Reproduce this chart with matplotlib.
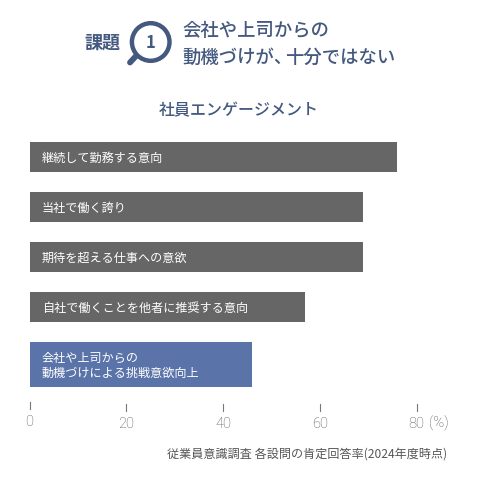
import matplotlib
matplotlib.use("Agg")
import matplotlib.pyplot as plt
from matplotlib.patches import Circle
from matplotlib.lines import Line2D

plt.rcParams['font.family'] = ['Noto Sans CJK JP', 'DejaVu Sans']

# data
categories = ["継続して勤務する意向", "当社で働く誇り", "期待を超える仕事への意欲",
              "自社で働くことを他者に推奨する意向",
              "会社や上司からの\n動機づけによる挑戦意欲向上"]
values = [76, 69, 69, 57, 46]
bar_colors = ["#666666", "#666666", "#666666", "#666666", "#5a73a8"]
tick_vals = [0, 20, 40, 60, 80]
tick_labels = ["0", "20", "40", "60", "80"]

navy = "#44597f"
grey = "#555555"
W, H = 478, 480

fig = plt.figure(figsize=(W / 100, H / 100), dpi=100)
ax = fig.add_axes([29.5 / W, 1 - 387 / H, (416.5 - 29.5) / W, (387 - 142) / H])
# last bar is taller because of its two line label
ypos = [0, 1, 2, 3, 4.15]
heights = [0.6, 0.6, 0.6, 0.6, 0.9]
ax.barh(ypos, values, height=heights, color=bar_colors)
ax.set_ylim(4.6, -0.3)
ax.set_xlim(0, 80)
for y, c in zip(ypos, categories):
    ax.text(2.5, y + 0.03, c, color="white", fontsize=8.7, va="center", ha="left", linespacing=1.25)
for s in ax.spines.values():
    s.set_visible(False)
ax.set_yticks([])
ax.set_xticks([])
ax.patch.set_alpha(0)

# ticks sit below the bars, detached from them
for v, t in zip(tick_vals, tick_labels):
    x = (29.5 + v / 80 * 387) / W
    shift = 2 if v == 0 else 0
    fig.add_artist(Line2D([x, x], [1 - (404 - shift) / H, 1 - (411 - shift) / H], color="#777777", lw=0.8))
    fig.text(x, 1 - (423.5 - shift) / H, t, color=grey, fontsize=10.5, ha="center", va="center",
             family="Roboto", fontweight="light")
fig.text(429 / W, 1 - 423.5 / H, "(%)", color=grey, fontsize=10.5, ha="left", va="center",
         family="Roboto", fontweight="light")

fig.text(447 / W, 1 - 454 / H, "従業員意識調査 各設問の肯定回答率(2024年度時点)", color="#555555",
         fontsize=8.7, ha="right", va="center")
fig.text(239 / W, 1 - 111 / H, "社員エンゲージメント", color=navy, fontsize=11.5,
         ha="center", va="center", fontweight="medium")

# heading
fig.text(102 / W, 1 - 43 / H, "課題", color=navy, fontsize=13, ha="center", va="center", fontweight="bold")
fig.text(182 / W, 1 - 30.5 / H, "会社や上司からの", color=navy, fontsize=13.2, ha="left", va="center", fontweight="medium")
fig.text(182 / W, 1 - 57.5 / H, "動機づけが、", color=navy, fontsize=13.2, ha="left", va="center", fontweight="medium")
fig.text(285 / W, 1 - 57.5 / H, "十分ではない", color=navy, fontsize=13.2, ha="left", va="center", fontweight="medium")
over = fig.add_axes([0, 0, 1, 1])
over.set_xlim(0, W)
over.set_ylim(H, 0)
over.axis("off")
over.add_patch(Circle((150.7, 42), 18.8, fc="white", ec=navy, lw=3.2))
over.plot([136, 130], [56, 62.5], color=navy, lw=4.2, solid_capstyle="round")
over.text(150.7, 43, "1", color=navy, fontsize=12, ha="center", va="center", fontweight="bold")

fig.savefig("out.png", dpi=100)
